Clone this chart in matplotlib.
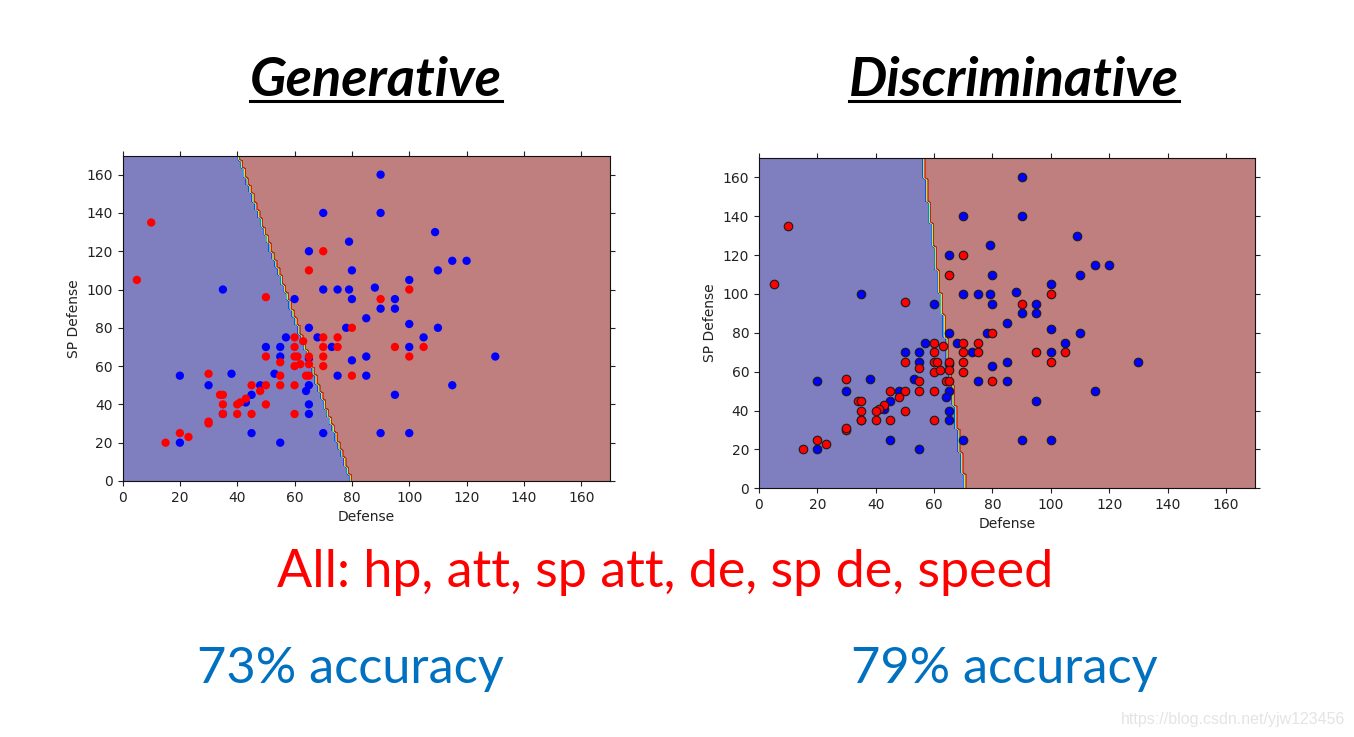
import numpy as np
import matplotlib.pyplot as plt
from matplotlib.colors import Normalize
from matplotlib.lines import Line2D

# Defense / SP Defense of the two classes
blue_def = [35, 60, 70, 65, 79, 80, 70, 75, 79, 80, 85, 65, 78,
            90, 90, 109, 115, 120, 110, 100, 88, 95, 90, 95, 100, 110, 105,
            100, 85, 130, 85, 115, 95, 90, 100,
            57, 68, 73, 50, 55, 55, 65, 80, 75, 20, 38, 53, 30, 48, 65, 64,
            45, 43, 65, 35, 65, 45, 70, 55, 20]
blue_spdef = [100, 95, 140, 120, 125, 110, 100, 100, 100, 95, 85, 80, 80,
              160, 140, 130, 115, 115, 110, 105, 101, 95, 90, 90, 82, 80, 75,
              70, 65, 65, 55, 50, 45, 25, 25,
              75, 75, 70, 70, 70, 65, 64, 63, 55, 55, 56, 56, 50, 50, 50, 47,
              45, 41, 40, 35, 35, 25, 25, 20, 20]

red_def = [10, 5, 50, 70, 65, 80, 90, 100, 95, 105, 100,
           60, 63, 70, 75, 60, 70, 75, 50, 60, 61, 65, 70, 55, 60, 62, 65, 70,
           80, 30, 55, 64, 65, 45, 50, 55, 60, 48, 34, 35, 43, 41, 40, 35, 50,
           35, 40, 45, 60, 30, 30, 20, 23, 15]
red_spdef = [135, 105, 96, 120, 110, 80, 95, 100, 70, 70, 65,
             75, 73, 75, 75, 70, 70, 70, 65, 65, 65, 65, 65, 62, 60, 61, 61, 60,
             55, 56, 55, 55, 55, 50, 50, 50, 50, 47, 45, 45, 43, 41, 40, 40, 40,
             35, 35, 35, 35, 30, 31, 25, 23, 20]

# decision boundaries: x position at y = 0 and y = 170
boundary_y = [0, 170]
gen_boundary_x = [79.8, 40.4]
dis_boundary_x = [70.6, 56.1]

fig = plt.figure(figsize=(13.54, 7.37), dpi=100)
ax1 = fig.add_axes([0.0905, 0.3474, 0.36, 0.4416])
ax2 = fig.add_axes([0.5605, 0.3376, 0.3665, 0.448])


def draw_panel(ax, boundary_x, edge):
    g = np.arange(0, 171, 1.0)
    xx, yy = np.meshgrid(g, g)
    zz = (xx > np.interp(yy, boundary_y, boundary_x)).astype(float)
    ax.contourf(xx, yy, zz, levels=np.arange(-0.05, 1.06, 0.1),
                cmap='jet', norm=Normalize(0, 1), alpha=0.5)
    if edge:
        kw = dict(s=38, edgecolors='#1a1a1a', linewidths=0.8)
    else:
        kw = dict(s=36, edgecolors='none')
    ax.scatter(blue_def, blue_spdef, c='#0000ff', zorder=3, **kw)
    ax.scatter(red_def, red_spdef, c='#ff0000', zorder=4, **kw)
    ax.set_xlim(0, 170)
    ax.set_ylim(0, 170)
    ax.set_xticks(range(0, 161, 20))
    ax.set_yticks(range(0, 161, 20))
    ax.tick_params(direction='out', top=True, right=True, labelsize=10,
                   length=3.5, colors='#222222')
    ax.set_xlabel('Defense', fontsize=10, color='#222222')
    ax.set_ylabel('SP Defense', fontsize=10, color='#222222')
    for s in ax.spines.values():
        s.set_color('#111111')


draw_panel(ax1, gen_boundary_x, False)
draw_panel(ax2, dis_boundary_x, True)

W, H = 1354, 737
titles = []
for label, cx in [('Generative', 376), ('Discriminative', 1014)]:
    t = fig.text(cx / W, 1 - 96 / H, label, family='Lato', weight='bold',
                 style='italic', fontsize=39, ha='center', va='baseline')
    titles.append(t)

fig.text(665 / W, 1 - 587 / H, 'All: hp, att, sp att, de, sp de, speed',
         family='Lato', fontsize=37.5, color='#ff0000', ha='center', va='baseline')
fig.text(350 / W, 1 - 683 / H, '73% accuracy', family='Lato', fontsize=36.4,
         color='#0070c0', ha='center', va='baseline')
fig.text(1004 / W, 1 - 683 / H, '79% accuracy', family='Lato', fontsize=36.4,
         color='#0070c0', ha='center', va='baseline')
fig.text(1345 / W, 1 - 724 / H, 'https://blog.csdn.net/yjw123456',
         family='Liberation Sans', fontsize=11.5, color='#e4e4e4',
         ha='right', va='baseline')

# underline the two titles
fig.canvas.draw()
r = fig.canvas.get_renderer()
for t in titles:
    bb = t.get_window_extent(r)
    y = (H - 101) / H
    fig.add_artist(Line2D([bb.x0 / W, bb.x1 / W], [y, y], color='black',
                          linewidth=2.2, transform=fig.transFigure))

fig.savefig('out.png', dpi=100)
